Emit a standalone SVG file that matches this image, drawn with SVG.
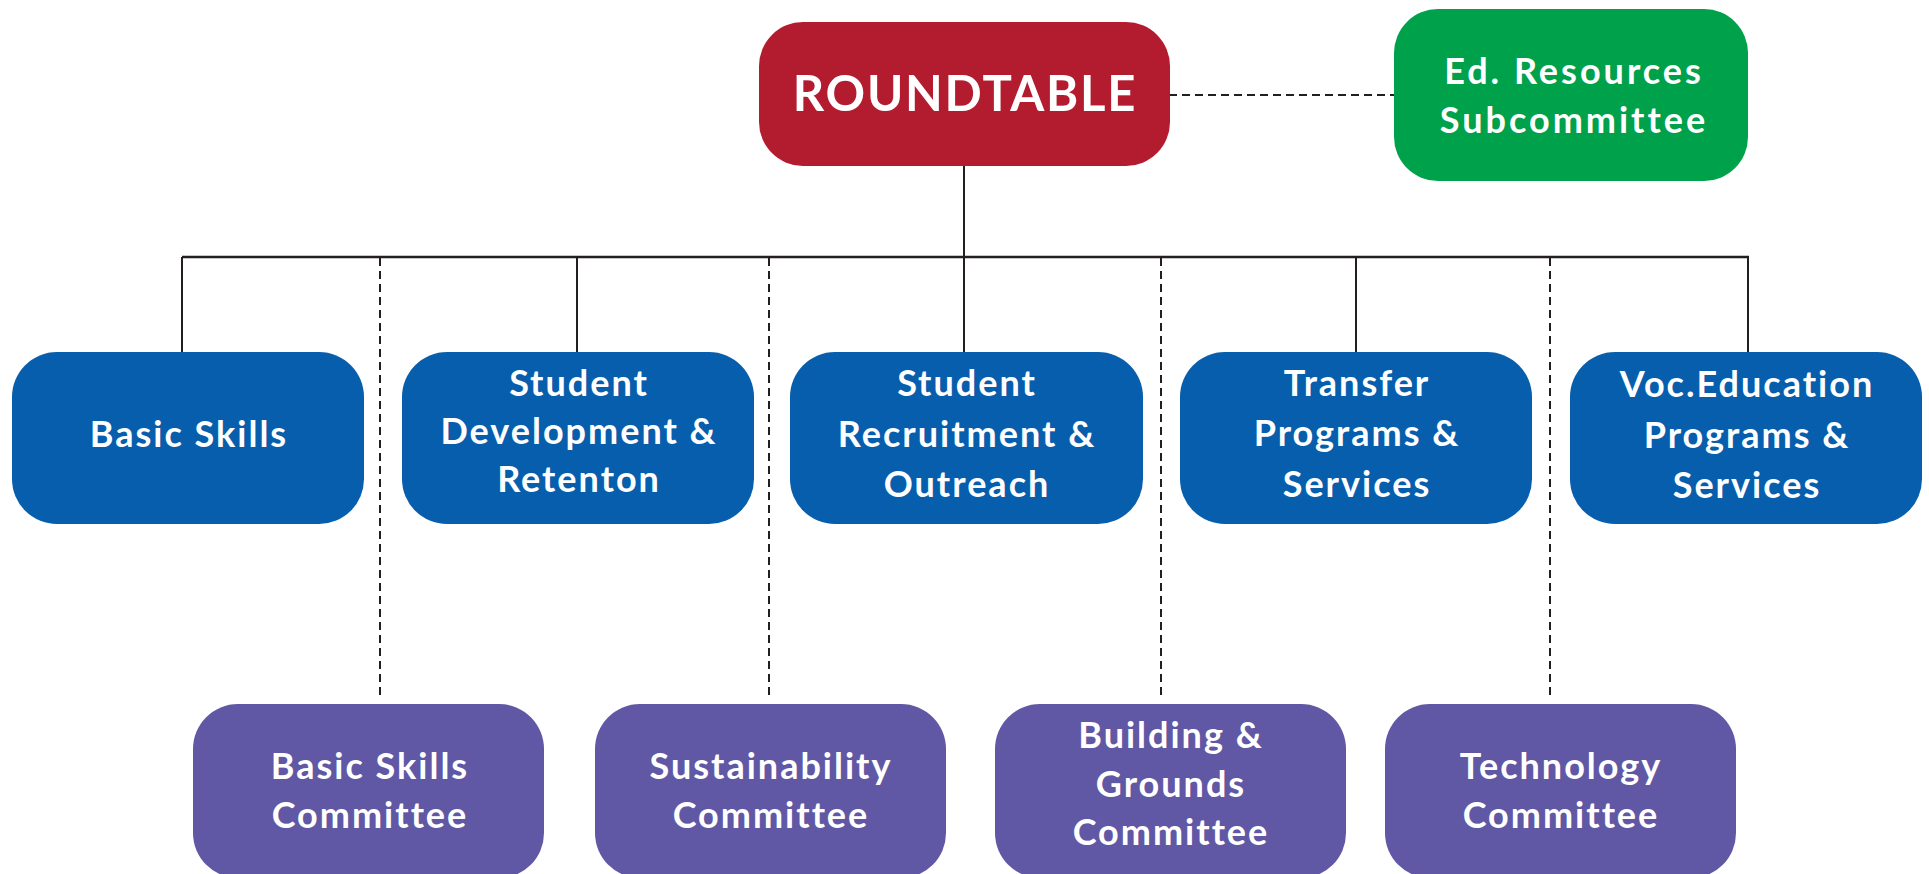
<svg xmlns="http://www.w3.org/2000/svg" width="1929" height="874" viewBox="0 0 1929 874">
  <style>
    .box { stroke: none; }
    .red { fill: #B31C2F; }
    .green { fill: #00A14B; }
    .blue { fill: #065EAD; }
    .purple { fill: #6058A4; }
    .lbl { font-family: Lato, "Liberation Sans", sans-serif; font-weight: 700; fill: #ffffff; text-anchor: middle; font-size: 36px; letter-spacing: 2px; }
    .big { font-size: 49px; letter-spacing: 1.8px; }
    .wide { letter-spacing: 3px; }
    .solid { stroke: #231F20; stroke-width: 2; fill: none; }
    .bus { stroke: #231F20; stroke-width: 2.6; fill: none; }
    .dash { stroke: #231F20; stroke-width: 2; fill: none; stroke-dasharray: 8 5; }
  </style>
  <rect width="1929" height="874" fill="#ffffff"/>

  <!-- connectors -->
  <g id="connectors">
    <line class="dash" x1="1169" y1="95" x2="1394" y2="95"/>
    <line class="solid" x1="964" y1="166" x2="964" y2="352"/>
    <line class="bus" x1="182" y1="257" x2="1749" y2="257"/>
    <line class="solid" x1="182" y1="257" x2="182" y2="352"/>
    <line class="solid" x1="577" y1="257" x2="577" y2="352"/>
    <line class="solid" x1="1356" y1="257" x2="1356" y2="352"/>
    <line class="solid" x1="1748" y1="257" x2="1748" y2="352"/>
    <line class="dash" x1="380" y1="258" x2="380" y2="700"/>
    <line class="dash" x1="769" y1="258" x2="769" y2="700"/>
    <line class="dash" x1="1161" y1="258" x2="1161" y2="700"/>
    <line class="dash" x1="1550" y1="258" x2="1550" y2="700"/>
  </g>

  <!-- top level -->
  <g id="roundtable">
    <rect class="box red" x="759" y="22" width="411" height="144" rx="44"/>
    <text class="lbl big" x="965" y="111">ROUNDTABLE</text>
  </g>
  <g id="ed-resources">
    <rect class="box green" x="1394" y="9" width="354" height="172" rx="44"/>
    <text class="lbl wide" x="1574" y="84">Ed. Resources</text>
    <text class="lbl wide" x="1574" y="133">Subcommittee</text>
  </g>

  <!-- program areas -->
  <g id="basic-skills">
    <rect class="box blue" x="12" y="352" width="352" height="172" rx="45"/>
    <text class="lbl" x="189" y="447">Basic Skills</text>
  </g>
  <g id="student-development">
    <rect class="box blue" x="402" y="352" width="352" height="172" rx="45"/>
    <text class="lbl" x="579" y="396">Student</text>
    <text class="lbl" x="579" y="444">Development &amp;</text>
    <text class="lbl" x="579" y="492">Retenton</text>
  </g>
  <g id="student-recruitment">
    <rect class="box blue" x="790" y="352" width="353" height="172" rx="45"/>
    <text class="lbl" x="967" y="396">Student</text>
    <text class="lbl" x="967" y="447">Recruitment &amp;</text>
    <text class="lbl" x="967" y="497">Outreach</text>
  </g>
  <g id="transfer">
    <rect class="box blue" x="1180" y="352" width="352" height="172" rx="45"/>
    <text class="lbl" x="1357" y="396">Transfer</text>
    <text class="lbl" x="1357" y="446">Programs &amp;</text>
    <text class="lbl" x="1357" y="497">Services</text>
  </g>
  <g id="voc-education">
    <rect class="box blue" x="1570" y="352" width="352" height="172" rx="45"/>
    <text class="lbl" x="1747" y="397">Voc.Education</text>
    <text class="lbl" x="1747" y="448">Programs &amp;</text>
    <text class="lbl" x="1747" y="498">Services</text>
  </g>

  <!-- standing committees -->
  <g id="basic-skills-committee">
    <rect class="box purple" x="193" y="704" width="351" height="174" rx="45"/>
    <text class="lbl" x="370" y="779">Basic Skills</text>
    <text class="lbl" x="370" y="828">Committee</text>
  </g>
  <g id="sustainability-committee">
    <rect class="box purple" x="595" y="704" width="351" height="174" rx="45"/>
    <text class="lbl" x="771" y="779">Sustainability</text>
    <text class="lbl" x="771" y="828">Committee</text>
  </g>
  <g id="building-grounds-committee">
    <rect class="box purple" x="995" y="704" width="351" height="174" rx="45"/>
    <text class="lbl" x="1171" y="748">Building &amp;</text>
    <text class="lbl" x="1171" y="797">Grounds</text>
    <text class="lbl" x="1171" y="845">Committee</text>
  </g>
  <g id="technology-committee">
    <rect class="box purple" x="1385" y="704" width="351" height="174" rx="45"/>
    <text class="lbl" x="1561" y="779">Technology</text>
    <text class="lbl" x="1561" y="828">Committee</text>
  </g>
</svg>
